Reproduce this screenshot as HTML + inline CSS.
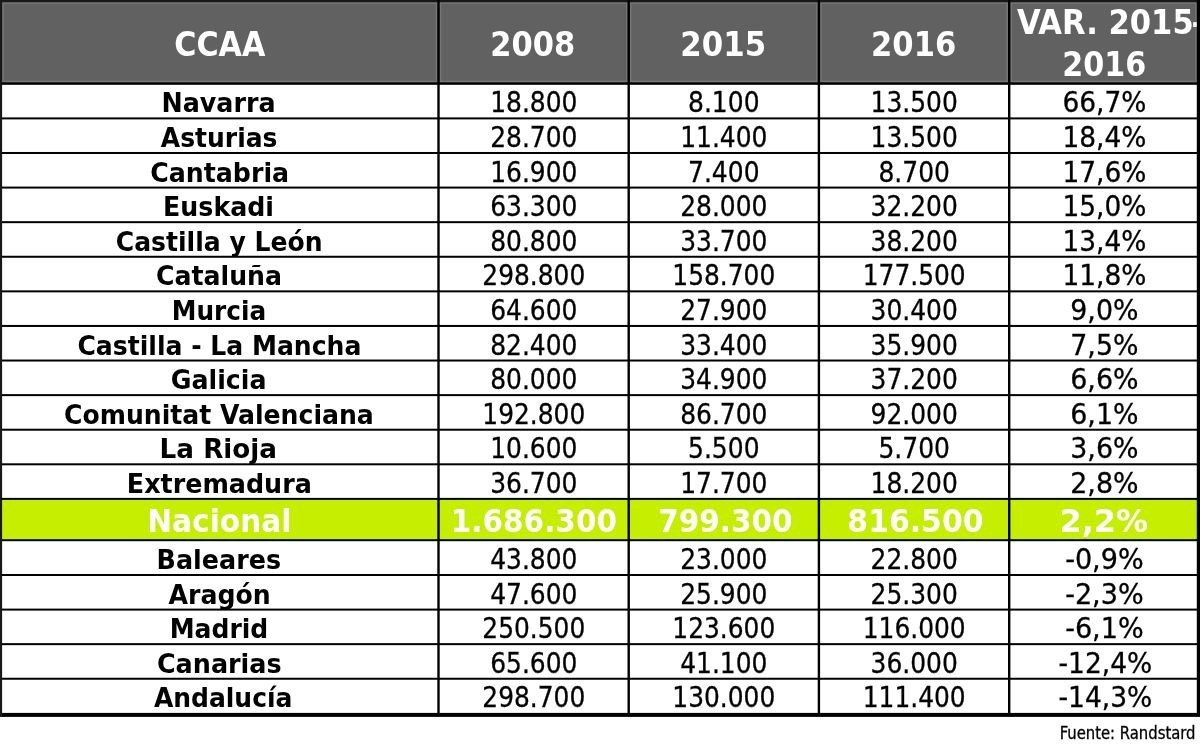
<!DOCTYPE html>
<html lang="es"><head><meta charset="utf-8"><title>Tabla CCAA</title>
<style>html,body{margin:0;padding:0;background:#fff}body{width:1200px;height:748px;overflow:hidden}svg{display:block}text{font-family:'DejaVu Sans Condensed','DejaVu Sans','Liberation Sans',sans-serif;font-stretch:condensed}</style></head><body>
<svg width="1200" height="748" viewBox="0 0 1200 748">
<rect x="0" y="0" width="1200" height="748" fill="#fff"/>
<rect x="0" y="0" width="1200" height="83" fill="#616161"/>
<rect x="3.00" y="3.0" width="433.50" height="78.5" fill="none" stroke="#fff" stroke-opacity="0.13" stroke-width="1.6"/>
<rect x="440.50" y="3.0" width="186.20" height="78.5" fill="none" stroke="#fff" stroke-opacity="0.13" stroke-width="1.6"/>
<rect x="630.70" y="3.0" width="186.20" height="78.5" fill="none" stroke="#fff" stroke-opacity="0.13" stroke-width="1.6"/>
<rect x="820.90" y="3.0" width="186.30" height="78.5" fill="none" stroke="#fff" stroke-opacity="0.13" stroke-width="1.6"/>
<rect x="1011.20" y="3.0" width="184.80" height="78.5" fill="none" stroke="#fff" stroke-opacity="0.13" stroke-width="1.6"/>
<rect x="0" y="498.89" width="1200" height="41.31000000000006" fill="#c5ee00"/>
<text id="h0" x="219.85" y="55.60" font-size="34.50" text-anchor="middle" fill="#fff" font-weight="bold" textLength="91.08" lengthAdjust="spacingAndGlyphs">CCAA</text>
<text id="h1" x="532.86" y="55.60" font-size="34.50" text-anchor="middle" fill="#fff" font-weight="bold" textLength="84.98" lengthAdjust="spacingAndGlyphs">2008</text>
<text id="h2" x="723.25" y="55.60" font-size="34.50" text-anchor="middle" fill="#fff" font-weight="bold" textLength="85.83" lengthAdjust="spacingAndGlyphs">2015</text>
<text id="h3" x="913.65" y="55.60" font-size="34.50" text-anchor="middle" fill="#fff" font-weight="bold" textLength="85.23" lengthAdjust="spacingAndGlyphs">2016</text>
<text id="h4" x="1110.60" y="34.40" font-size="34.50" text-anchor="middle" fill="#fff" font-weight="bold" textLength="187.40" lengthAdjust="spacingAndGlyphs">VAR. 2015<tspan dx="-2.2">-</tspan></text>
<text id="h5" x="1104.21" y="76.00" font-size="34.50" text-anchor="middle" fill="#fff" font-weight="bold" textLength="84.03" lengthAdjust="spacingAndGlyphs">2016</text>
<text id="r0c0" x="218.55" y="112.00" font-size="27.20" text-anchor="middle" fill="#000" font-weight="bold" textLength="113.92" lengthAdjust="spacingAndGlyphs">Navarra</text>
<text stroke="#000" stroke-width="0.3" id="r0c1" x="533.80" y="112.00" font-size="28.70" text-anchor="middle" fill="#000" textLength="87.19" lengthAdjust="spacingAndGlyphs">18.800</text>
<text stroke="#000" stroke-width="0.3" id="r0c2" x="723.80" y="112.00" font-size="28.70" text-anchor="middle" fill="#000" textLength="71.50" lengthAdjust="spacingAndGlyphs">8.100</text>
<text stroke="#000" stroke-width="0.3" id="r0c3" x="914.20" y="112.00" font-size="28.70" text-anchor="middle" fill="#000" textLength="87.19" lengthAdjust="spacingAndGlyphs">13.500</text>
<text stroke="#000" stroke-width="0.3" id="r0c4" x="1104.40" y="112.00" font-size="28.70" text-anchor="middle" fill="#000" textLength="83.89" lengthAdjust="spacingAndGlyphs">66,7%</text>
<text id="r1c0" x="219.15" y="147.00" font-size="27.20" text-anchor="middle" fill="#000" font-weight="bold" textLength="116.54" lengthAdjust="spacingAndGlyphs">Asturias</text>
<text stroke="#000" stroke-width="0.3" id="r1c1" x="533.80" y="147.00" font-size="28.70" text-anchor="middle" fill="#000" textLength="87.19" lengthAdjust="spacingAndGlyphs">28.700</text>
<text stroke="#000" stroke-width="0.3" id="r1c2" x="723.80" y="147.00" font-size="28.70" text-anchor="middle" fill="#000" textLength="87.19" lengthAdjust="spacingAndGlyphs">11.400</text>
<text stroke="#000" stroke-width="0.3" id="r1c3" x="914.20" y="147.00" font-size="28.70" text-anchor="middle" fill="#000" textLength="87.19" lengthAdjust="spacingAndGlyphs">13.500</text>
<text stroke="#000" stroke-width="0.3" id="r1c4" x="1104.40" y="147.00" font-size="28.70" text-anchor="middle" fill="#000" textLength="83.89" lengthAdjust="spacingAndGlyphs">18,4%</text>
<text id="r2c0" x="219.66" y="182.00" font-size="27.20" text-anchor="middle" fill="#000" font-weight="bold" textLength="138.91" lengthAdjust="spacingAndGlyphs">Cantabria</text>
<text stroke="#000" stroke-width="0.3" id="r2c1" x="533.80" y="182.00" font-size="28.70" text-anchor="middle" fill="#000" textLength="87.19" lengthAdjust="spacingAndGlyphs">16.900</text>
<text stroke="#000" stroke-width="0.3" id="r2c2" x="723.80" y="182.00" font-size="28.70" text-anchor="middle" fill="#000" textLength="71.50" lengthAdjust="spacingAndGlyphs">7.400</text>
<text stroke="#000" stroke-width="0.3" id="r2c3" x="914.20" y="182.00" font-size="28.70" text-anchor="middle" fill="#000" textLength="71.50" lengthAdjust="spacingAndGlyphs">8.700</text>
<text stroke="#000" stroke-width="0.3" id="r2c4" x="1104.40" y="182.00" font-size="28.70" text-anchor="middle" fill="#000" textLength="83.89" lengthAdjust="spacingAndGlyphs">17,6%</text>
<text id="r3c0" x="218.55" y="216.00" font-size="27.20" text-anchor="middle" fill="#000" font-weight="bold" textLength="110.90" lengthAdjust="spacingAndGlyphs">Euskadi</text>
<text stroke="#000" stroke-width="0.3" id="r3c1" x="533.80" y="216.00" font-size="28.70" text-anchor="middle" fill="#000" textLength="87.19" lengthAdjust="spacingAndGlyphs">63.300</text>
<text stroke="#000" stroke-width="0.3" id="r3c2" x="723.80" y="216.00" font-size="28.70" text-anchor="middle" fill="#000" textLength="87.19" lengthAdjust="spacingAndGlyphs">28.000</text>
<text stroke="#000" stroke-width="0.3" id="r3c3" x="914.20" y="216.00" font-size="28.70" text-anchor="middle" fill="#000" textLength="87.19" lengthAdjust="spacingAndGlyphs">32.200</text>
<text stroke="#000" stroke-width="0.3" id="r3c4" x="1104.40" y="216.00" font-size="28.70" text-anchor="middle" fill="#000" textLength="83.89" lengthAdjust="spacingAndGlyphs">15,0%</text>
<text id="r4c0" x="219.16" y="251.00" font-size="27.20" text-anchor="middle" fill="#000" font-weight="bold" textLength="206.72" lengthAdjust="spacingAndGlyphs">Castilla y León</text>
<text stroke="#000" stroke-width="0.3" id="r4c1" x="533.80" y="251.00" font-size="28.70" text-anchor="middle" fill="#000" textLength="87.19" lengthAdjust="spacingAndGlyphs">80.800</text>
<text stroke="#000" stroke-width="0.3" id="r4c2" x="723.80" y="251.00" font-size="28.70" text-anchor="middle" fill="#000" textLength="87.19" lengthAdjust="spacingAndGlyphs">33.700</text>
<text stroke="#000" stroke-width="0.3" id="r4c3" x="914.20" y="251.00" font-size="28.70" text-anchor="middle" fill="#000" textLength="87.19" lengthAdjust="spacingAndGlyphs">38.200</text>
<text stroke="#000" stroke-width="0.3" id="r4c4" x="1104.40" y="251.00" font-size="28.70" text-anchor="middle" fill="#000" textLength="83.89" lengthAdjust="spacingAndGlyphs">13,4%</text>
<text id="r5c0" x="219.04" y="285.00" font-size="27.20" text-anchor="middle" fill="#000" font-weight="bold" textLength="125.87" lengthAdjust="spacingAndGlyphs">Cataluña</text>
<text stroke="#000" stroke-width="0.3" id="r5c1" x="533.80" y="285.00" font-size="28.70" text-anchor="middle" fill="#000" textLength="102.88" lengthAdjust="spacingAndGlyphs">298.800</text>
<text stroke="#000" stroke-width="0.3" id="r5c2" x="723.80" y="285.00" font-size="28.70" text-anchor="middle" fill="#000" textLength="102.88" lengthAdjust="spacingAndGlyphs">158.700</text>
<text stroke="#000" stroke-width="0.3" id="r5c3" x="914.20" y="285.00" font-size="28.70" text-anchor="middle" fill="#000" textLength="102.88" lengthAdjust="spacingAndGlyphs">177.500</text>
<text stroke="#000" stroke-width="0.3" id="r5c4" x="1104.40" y="285.00" font-size="28.70" text-anchor="middle" fill="#000" textLength="83.89" lengthAdjust="spacingAndGlyphs">11,8%</text>
<text id="r6c0" x="218.99" y="320.00" font-size="27.20" text-anchor="middle" fill="#000" font-weight="bold" textLength="94.42" lengthAdjust="spacingAndGlyphs">Murcia</text>
<text stroke="#000" stroke-width="0.3" id="r6c1" x="533.80" y="320.00" font-size="28.70" text-anchor="middle" fill="#000" textLength="87.19" lengthAdjust="spacingAndGlyphs">64.600</text>
<text stroke="#000" stroke-width="0.3" id="r6c2" x="723.80" y="320.00" font-size="28.70" text-anchor="middle" fill="#000" textLength="87.19" lengthAdjust="spacingAndGlyphs">27.900</text>
<text stroke="#000" stroke-width="0.3" id="r6c3" x="914.20" y="320.00" font-size="28.70" text-anchor="middle" fill="#000" textLength="87.19" lengthAdjust="spacingAndGlyphs">30.400</text>
<text stroke="#000" stroke-width="0.3" id="r6c4" x="1104.40" y="320.00" font-size="28.70" text-anchor="middle" fill="#000" textLength="68.19" lengthAdjust="spacingAndGlyphs">9,0%</text>
<text id="r7c0" x="219.40" y="355.00" font-size="27.20" text-anchor="middle" fill="#000" font-weight="bold" textLength="283.92" lengthAdjust="spacingAndGlyphs">Castilla - La Mancha</text>
<text stroke="#000" stroke-width="0.3" id="r7c1" x="533.80" y="355.00" font-size="28.70" text-anchor="middle" fill="#000" textLength="87.19" lengthAdjust="spacingAndGlyphs">82.400</text>
<text stroke="#000" stroke-width="0.3" id="r7c2" x="723.80" y="355.00" font-size="28.70" text-anchor="middle" fill="#000" textLength="87.19" lengthAdjust="spacingAndGlyphs">33.400</text>
<text stroke="#000" stroke-width="0.3" id="r7c3" x="914.20" y="355.00" font-size="28.70" text-anchor="middle" fill="#000" textLength="87.19" lengthAdjust="spacingAndGlyphs">35.900</text>
<text stroke="#000" stroke-width="0.3" id="r7c4" x="1104.40" y="355.00" font-size="28.70" text-anchor="middle" fill="#000" textLength="68.19" lengthAdjust="spacingAndGlyphs">7,5%</text>
<text id="r8c0" x="218.65" y="389.00" font-size="27.20" text-anchor="middle" fill="#000" font-weight="bold" textLength="95.64" lengthAdjust="spacingAndGlyphs">Galicia</text>
<text stroke="#000" stroke-width="0.3" id="r8c1" x="533.80" y="389.00" font-size="28.70" text-anchor="middle" fill="#000" textLength="87.19" lengthAdjust="spacingAndGlyphs">80.000</text>
<text stroke="#000" stroke-width="0.3" id="r8c2" x="723.80" y="389.00" font-size="28.70" text-anchor="middle" fill="#000" textLength="87.19" lengthAdjust="spacingAndGlyphs">34.900</text>
<text stroke="#000" stroke-width="0.3" id="r8c3" x="914.20" y="389.00" font-size="28.70" text-anchor="middle" fill="#000" textLength="87.19" lengthAdjust="spacingAndGlyphs">37.200</text>
<text stroke="#000" stroke-width="0.3" id="r8c4" x="1104.40" y="389.00" font-size="28.70" text-anchor="middle" fill="#000" textLength="68.19" lengthAdjust="spacingAndGlyphs">6,6%</text>
<text id="r9c0" x="218.95" y="424.00" font-size="27.20" text-anchor="middle" fill="#000" font-weight="bold" textLength="309.76" lengthAdjust="spacingAndGlyphs">Comunitat Valenciana</text>
<text stroke="#000" stroke-width="0.3" id="r9c1" x="533.80" y="424.00" font-size="28.70" text-anchor="middle" fill="#000" textLength="102.88" lengthAdjust="spacingAndGlyphs">192.800</text>
<text stroke="#000" stroke-width="0.3" id="r9c2" x="723.80" y="424.00" font-size="28.70" text-anchor="middle" fill="#000" textLength="87.19" lengthAdjust="spacingAndGlyphs">86.700</text>
<text stroke="#000" stroke-width="0.3" id="r9c3" x="914.20" y="424.00" font-size="28.70" text-anchor="middle" fill="#000" textLength="87.19" lengthAdjust="spacingAndGlyphs">92.000</text>
<text stroke="#000" stroke-width="0.3" id="r9c4" x="1104.40" y="424.00" font-size="28.70" text-anchor="middle" fill="#000" textLength="68.19" lengthAdjust="spacingAndGlyphs">6,1%</text>
<text id="r10c0" x="218.33" y="458.00" font-size="27.20" text-anchor="middle" fill="#000" font-weight="bold" textLength="117.44" lengthAdjust="spacingAndGlyphs">La Rioja</text>
<text stroke="#000" stroke-width="0.3" id="r10c1" x="533.80" y="458.00" font-size="28.70" text-anchor="middle" fill="#000" textLength="87.19" lengthAdjust="spacingAndGlyphs">10.600</text>
<text stroke="#000" stroke-width="0.3" id="r10c2" x="723.80" y="458.00" font-size="28.70" text-anchor="middle" fill="#000" textLength="71.50" lengthAdjust="spacingAndGlyphs">5.500</text>
<text stroke="#000" stroke-width="0.3" id="r10c3" x="914.20" y="458.00" font-size="28.70" text-anchor="middle" fill="#000" textLength="71.50" lengthAdjust="spacingAndGlyphs">5.700</text>
<text stroke="#000" stroke-width="0.3" id="r10c4" x="1104.40" y="458.00" font-size="28.70" text-anchor="middle" fill="#000" textLength="68.19" lengthAdjust="spacingAndGlyphs">3,6%</text>
<text id="r11c0" x="219.33" y="493.00" font-size="27.20" text-anchor="middle" fill="#000" font-weight="bold" textLength="184.89" lengthAdjust="spacingAndGlyphs">Extremadura</text>
<text stroke="#000" stroke-width="0.3" id="r11c1" x="533.80" y="493.00" font-size="28.70" text-anchor="middle" fill="#000" textLength="87.19" lengthAdjust="spacingAndGlyphs">36.700</text>
<text stroke="#000" stroke-width="0.3" id="r11c2" x="723.80" y="493.00" font-size="28.70" text-anchor="middle" fill="#000" textLength="87.19" lengthAdjust="spacingAndGlyphs">17.700</text>
<text stroke="#000" stroke-width="0.3" id="r11c3" x="914.20" y="493.00" font-size="28.70" text-anchor="middle" fill="#000" textLength="87.19" lengthAdjust="spacingAndGlyphs">18.200</text>
<text stroke="#000" stroke-width="0.3" id="r11c4" x="1104.40" y="493.00" font-size="28.70" text-anchor="middle" fill="#000" textLength="68.19" lengthAdjust="spacingAndGlyphs">2,8%</text>
<text id="r12c0" x="219.40" y="532.30" font-size="32.00" text-anchor="middle" fill="#fff" font-weight="bold" textLength="144.23" lengthAdjust="spacingAndGlyphs">Nacional</text>
<text id="r12c1" x="533.89" y="532.30" font-size="32.00" text-anchor="middle" fill="#fff" font-weight="bold" textLength="166.10" lengthAdjust="spacingAndGlyphs">1.686.300</text>
<text id="r12c2" x="725.36" y="532.30" font-size="32.00" text-anchor="middle" fill="#fff" font-weight="bold" textLength="134.32" lengthAdjust="spacingAndGlyphs">799.300</text>
<text id="r12c3" x="915.43" y="532.30" font-size="32.00" text-anchor="middle" fill="#fff" font-weight="bold" textLength="136.18" lengthAdjust="spacingAndGlyphs">816.500</text>
<text id="r12c4" x="1103.78" y="532.30" font-size="32.00" text-anchor="middle" fill="#fff" font-weight="bold" textLength="88.81" lengthAdjust="spacingAndGlyphs">2,2%</text>
<text id="r13c0" x="218.81" y="569.00" font-size="27.20" text-anchor="middle" fill="#000" font-weight="bold" textLength="124.46" lengthAdjust="spacingAndGlyphs">Baleares</text>
<text stroke="#000" stroke-width="0.3" id="r13c1" x="533.80" y="569.00" font-size="28.70" text-anchor="middle" fill="#000" textLength="87.19" lengthAdjust="spacingAndGlyphs">43.800</text>
<text stroke="#000" stroke-width="0.3" id="r13c2" x="723.80" y="569.00" font-size="28.70" text-anchor="middle" fill="#000" textLength="87.19" lengthAdjust="spacingAndGlyphs">23.000</text>
<text stroke="#000" stroke-width="0.3" id="r13c3" x="914.20" y="569.00" font-size="28.70" text-anchor="middle" fill="#000" textLength="87.19" lengthAdjust="spacingAndGlyphs">22.800</text>
<text stroke="#000" stroke-width="0.3" id="r13c4" x="1104.40" y="569.00" font-size="28.70" text-anchor="middle" fill="#000" textLength="78.47" lengthAdjust="spacingAndGlyphs">-0,9%</text>
<text id="r14c0" x="219.56" y="604.00" font-size="27.20" text-anchor="middle" fill="#000" font-weight="bold" textLength="102.15" lengthAdjust="spacingAndGlyphs">Aragón</text>
<text stroke="#000" stroke-width="0.3" id="r14c1" x="533.80" y="604.00" font-size="28.70" text-anchor="middle" fill="#000" textLength="87.19" lengthAdjust="spacingAndGlyphs">47.600</text>
<text stroke="#000" stroke-width="0.3" id="r14c2" x="723.80" y="604.00" font-size="28.70" text-anchor="middle" fill="#000" textLength="87.19" lengthAdjust="spacingAndGlyphs">25.900</text>
<text stroke="#000" stroke-width="0.3" id="r14c3" x="914.20" y="604.00" font-size="28.70" text-anchor="middle" fill="#000" textLength="87.19" lengthAdjust="spacingAndGlyphs">25.300</text>
<text stroke="#000" stroke-width="0.3" id="r14c4" x="1104.40" y="604.00" font-size="28.70" text-anchor="middle" fill="#000" textLength="78.47" lengthAdjust="spacingAndGlyphs">-2,3%</text>
<text id="r15c0" x="218.97" y="638.00" font-size="27.20" text-anchor="middle" fill="#000" font-weight="bold" textLength="98.48" lengthAdjust="spacingAndGlyphs">Madrid</text>
<text stroke="#000" stroke-width="0.3" id="r15c1" x="533.80" y="638.00" font-size="28.70" text-anchor="middle" fill="#000" textLength="102.88" lengthAdjust="spacingAndGlyphs">250.500</text>
<text stroke="#000" stroke-width="0.3" id="r15c2" x="723.80" y="638.00" font-size="28.70" text-anchor="middle" fill="#000" textLength="102.88" lengthAdjust="spacingAndGlyphs">123.600</text>
<text stroke="#000" stroke-width="0.3" id="r15c3" x="914.20" y="638.00" font-size="28.70" text-anchor="middle" fill="#000" textLength="102.88" lengthAdjust="spacingAndGlyphs">116.000</text>
<text stroke="#000" stroke-width="0.3" id="r15c4" x="1104.40" y="638.00" font-size="28.70" text-anchor="middle" fill="#000" textLength="78.47" lengthAdjust="spacingAndGlyphs">-6,1%</text>
<text id="r16c0" x="219.28" y="673.00" font-size="27.20" text-anchor="middle" fill="#000" font-weight="bold" textLength="124.71" lengthAdjust="spacingAndGlyphs">Canarias</text>
<text stroke="#000" stroke-width="0.3" id="r16c1" x="533.80" y="673.00" font-size="28.70" text-anchor="middle" fill="#000" textLength="87.19" lengthAdjust="spacingAndGlyphs">65.600</text>
<text stroke="#000" stroke-width="0.3" id="r16c2" x="723.80" y="673.00" font-size="28.70" text-anchor="middle" fill="#000" textLength="87.19" lengthAdjust="spacingAndGlyphs">41.100</text>
<text stroke="#000" stroke-width="0.3" id="r16c3" x="914.20" y="673.00" font-size="28.70" text-anchor="middle" fill="#000" textLength="87.19" lengthAdjust="spacingAndGlyphs">36.000</text>
<text stroke="#000" stroke-width="0.3" id="r16c4" x="1105.41" y="673.00" font-size="28.70" text-anchor="middle" fill="#000" textLength="93.74" lengthAdjust="spacingAndGlyphs">-12,4%</text>
<text id="r17c0" x="223.15" y="707.00" font-size="27.20" text-anchor="middle" fill="#000" font-weight="bold" textLength="138.49" lengthAdjust="spacingAndGlyphs">Andalucía</text>
<text stroke="#000" stroke-width="0.3" id="r17c1" x="533.80" y="707.00" font-size="28.70" text-anchor="middle" fill="#000" textLength="102.88" lengthAdjust="spacingAndGlyphs">298.700</text>
<text stroke="#000" stroke-width="0.3" id="r17c2" x="723.80" y="707.00" font-size="28.70" text-anchor="middle" fill="#000" textLength="102.88" lengthAdjust="spacingAndGlyphs">130.000</text>
<text stroke="#000" stroke-width="0.3" id="r17c3" x="914.20" y="707.00" font-size="28.70" text-anchor="middle" fill="#000" textLength="102.88" lengthAdjust="spacingAndGlyphs">111.400</text>
<text stroke="#000" stroke-width="0.3" id="r17c4" x="1105.41" y="707.00" font-size="28.70" text-anchor="middle" fill="#000" textLength="93.74" lengthAdjust="spacingAndGlyphs">-14,3%</text>
<text stroke="#000" stroke-width="0.3" id="foot" x="1195.51" y="738.60" font-size="17.50" text-anchor="end" fill="#000" textLength="135.87" lengthAdjust="spacingAndGlyphs">Fuente: Randstard</text>
<rect x="0" y="82.40" width="1200" height="2.40" fill="#000"/>
<rect x="0" y="117.40" width="1200" height="2.00" fill="#000"/>
<rect x="0" y="151.99" width="1200" height="2.00" fill="#000"/>
<rect x="0" y="186.58" width="1200" height="2.00" fill="#000"/>
<rect x="0" y="221.17" width="1200" height="2.00" fill="#000"/>
<rect x="0" y="255.76" width="1200" height="2.00" fill="#000"/>
<rect x="0" y="290.35" width="1200" height="2.00" fill="#000"/>
<rect x="0" y="324.94" width="1200" height="2.00" fill="#000"/>
<rect x="0" y="359.53" width="1200" height="2.00" fill="#000"/>
<rect x="0" y="394.12" width="1200" height="2.00" fill="#000"/>
<rect x="0" y="428.71" width="1200" height="2.00" fill="#000"/>
<rect x="0" y="463.30" width="1200" height="2.00" fill="#000"/>
<rect x="0" y="497.89" width="1200" height="2.00" fill="#000"/>
<rect x="0" y="539.20" width="1200" height="2.00" fill="#000"/>
<rect x="0" y="574.00" width="1200" height="2.00" fill="#000"/>
<rect x="0" y="608.60" width="1200" height="2.00" fill="#000"/>
<rect x="0" y="643.15" width="1200" height="2.00" fill="#000"/>
<rect x="0" y="677.75" width="1200" height="2.00" fill="#000"/>
<rect x="0" y="712.9" width="1200" height="4" fill="#000"/>
<rect x="0" y="0" width="1200" height="2.2" fill="#181818"/>
<rect x="0" y="0" width="2.1" height="716" fill="#181818"/>
<rect x="1196.8" y="0" width="3.2" height="716" fill="#000"/>
<rect x="437.30" y="0" width="2.4" height="714" fill="#000"/>
<rect x="627.50" y="0" width="2.4" height="714" fill="#000"/>
<rect x="817.70" y="0" width="2.4" height="714" fill="#000"/>
<rect x="1008.00" y="0" width="2.4" height="714" fill="#000"/>
</svg></body></html>
